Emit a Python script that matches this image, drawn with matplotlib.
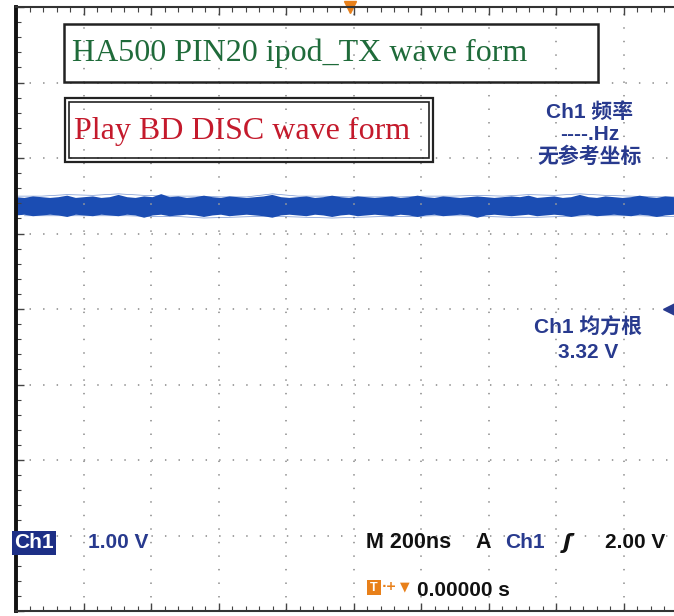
import numpy as np
import matplotlib.pyplot as plt
from matplotlib.patches import Rectangle

# screen size in pixels
W, H = 674, 616

# Ch1 trace envelope, in divisions above the screen centre
trace_top = [1.47, 1.46, 1.48, 1.47, 1.46, 1.47, 1.49, 1.46, 1.47, 1.48,
             1.46, 1.47, 1.50, 1.47, 1.46, 1.48, 1.47, 1.51, 1.47, 1.48,
             1.46, 1.47, 1.49, 1.47, 1.46, 1.48, 1.47, 1.46, 1.47, 1.48,
             1.50, 1.47, 1.46, 1.47, 1.48, 1.46, 1.47, 1.49, 1.47, 1.46,
             1.48, 1.47, 1.46, 1.47, 1.48, 1.46, 1.47, 1.49, 1.47, 1.46,
             1.48, 1.47, 1.46, 1.47, 1.48, 1.47, 1.46, 1.47, 1.48, 1.47,
             1.49, 1.46, 1.47, 1.48, 1.46, 1.47, 1.50, 1.47, 1.46, 1.48,
             1.47, 1.46, 1.47, 1.49, 1.47, 1.46, 1.48, 1.47, 1.46, 1.47]
trace_bottom = [1.25, 1.26, 1.24, 1.25, 1.26, 1.25, 1.23, 1.26, 1.25, 1.24,
                1.26, 1.25, 1.24, 1.26, 1.25, 1.22, 1.25, 1.26, 1.24, 1.25,
                1.26, 1.25, 1.23, 1.25, 1.26, 1.24, 1.25, 1.26, 1.25, 1.24,
                1.22, 1.25, 1.26, 1.25, 1.24, 1.26, 1.25, 1.23, 1.25, 1.26,
                1.24, 1.25, 1.26, 1.25, 1.24, 1.26, 1.25, 1.23, 1.25, 1.26,
                1.24, 1.25, 1.26, 1.25, 1.22, 1.25, 1.26, 1.25, 1.24, 1.25,
                1.26, 1.24, 1.25, 1.26, 1.25, 1.23, 1.25, 1.26, 1.24, 1.25,
                1.26, 1.25, 1.24, 1.26, 1.25, 1.23, 1.25, 1.26, 1.24, 1.25]

title_text = 'HA500 PIN20 ipod_TX wave form'
sub_text = 'Play BD DISC wave form'
freq_lines = ['Ch1 频率', '----.Hz', '无参考坐标']
rms_lines = ['Ch1 均方根', '3.32 V']
ch_scale = '1.00 V'
timebase = 'M 200ns'
trig_mode = 'A'
trig_src = 'Ch1'
trig_level = '2.00 V'
trig_time = '0.00000 s'

n_xdiv, n_ydiv = 10, 8
trig_pos = 4.95   # trigger position marker (div)
ref_pos = 9.67    # reference level marker (div)

navy = '#283a8e'
trace_blue = '#1b4db3'
orange = '#e8801a'
sans = ['Liberation Sans', 'Noto Sans CJK SC', 'DejaVu Sans']


def fx(px):
    return px / W


def fy(py):
    return 1 - py / H


fig = plt.figure(figsize=(W / 100, H / 100), dpi=100)
ax = fig.add_axes([fx(16), 5 / H, 675 / W, 604 / H])
ax.set_xlim(0, n_xdiv)
ax.set_ylim(-n_ydiv / 2, n_ydiv / 2)

# graticule
ax.set_xticks(np.arange(0, n_xdiv + 1))
ax.set_yticks(np.arange(-n_ydiv / 2, n_ydiv / 2 + 1))
ax.set_xticks(np.arange(0, n_xdiv + 0.01, 0.2), minor=True)
ax.set_yticks(np.arange(-n_ydiv / 2, n_ydiv / 2 + 0.01, 0.2), minor=True)
ax.grid(True, which='major', color='#9a9a9a', lw=1.3, ls=(0, (0.8, 6.7)))
ax.tick_params(which='both', direction='in', top=True, bottom=True,
               left=True, right=False, labelbottom=False, labelleft=False,
               color='#444444')
ax.tick_params(which='major', length=6, width=1)
ax.tick_params(which='minor', length=3.5, width=0.8)
ax.spines['left'].set_linewidth(2.8)
ax.spines['left'].set_color('#111111')
for s in ['top', 'bottom']:
    ax.spines[s].set_linewidth(1.5)
    ax.spines[s].set_color('#333333')
ax.spines['right'].set_visible(False)

# trace: solid core plus a thin noisy fringe
t = np.linspace(0, n_xdiv, len(trace_top))
ax.fill_between(t, trace_bottom, trace_top, color=trace_blue, lw=0)
ax.plot(t, trace_top, color=trace_blue, lw=1.2)
ax.plot(t, trace_bottom, color=trace_blue, lw=1.2)
ax.plot(t[::3], np.array(trace_top[::3]) + 0.025, color=trace_blue,
        lw=0.5, alpha=0.6)
ax.plot(t[1::3], np.array(trace_bottom[1::3]) - 0.025, color=trace_blue,
        lw=0.5, alpha=0.6)

# markers
ax.plot(trig_pos, n_ydiv / 2, marker='v', color=orange, ms=9, clip_on=False)
ax.plot(ref_pos, 0, marker='<', color=navy, ms=8, clip_on=False)

# annotation boxes
fig.add_artist(Rectangle((fx(64), fy(82)), (598 - 64) / W, (82 - 24) / H,
                         fill=False, ec='#222222', lw=1.8,
                         transform=fig.transFigure))
fig.add_artist(Rectangle((fx(65), fy(162)), (433 - 65) / W, (162 - 98) / H,
                         fill=False, ec='#222222', lw=1.6,
                         transform=fig.transFigure))
fig.add_artist(Rectangle((fx(69), fy(158)), (429 - 69) / W, (158 - 102) / H,
                         fill=False, ec='#222222', lw=1.2,
                         transform=fig.transFigure))
fig.text(fx(72), fy(53), title_text, color='#1f6b3a',
         family='Liberation Serif', size=23, va='center', ha='left')
fig.text(fx(74), fy(131), sub_text, color='#c41a2c',
         family='Liberation Serif', size=23, va='center', ha='left')

# measurement readouts
for line, py in zip(freq_lines, [112, 135, 157]):
    fig.text(fx(590), fy(py), line, color=navy, family=sans,
             weight='bold', size=15, ha='center', va='center')
for line, py in zip(rms_lines, [328, 352]):
    fig.text(fx(588), fy(py), line, color=navy, family=sans,
             weight='bold', size=15, ha='center', va='center')

# status line
fig.text(fx(34), fy(543), 'Ch1', color='white', family=sans, weight='bold',
         size=15, ha='center', va='center',
         bbox=dict(fc='#1d2f86', ec='none', pad=1.5))
fig.text(fx(88), fy(543), ch_scale, color=navy, family=sans,
         weight='bold', size=15, va='center')
fig.text(fx(366), fy(543), timebase, color='#111111', family=sans,
         weight='bold', size=15.5, va='center')
fig.text(fx(475), fy(543), trig_mode, color='#111111', family=sans,
         weight='bold', size=15.5, va='center')
fig.text(fx(505), fy(543), trig_src, color=navy, family=sans,
         weight='bold', size=15, va='center')
fig.text(fx(567), fy(543), 'ʃ', color='#111111', family='DejaVu Sans',
         weight='bold', style='italic', size=16, ha='center', va='center')
fig.text(fx(605), fy(543), trig_level, color='#111111', family=sans,
         weight='bold', size=15, va='center')

# trigger time readout
fig.add_artist(Rectangle((fx(367), fy(595)), 14 / W, 15 / H, fc=orange,
                         ec='none', transform=fig.transFigure))
fig.text(fx(374), fy(588), 'T', color='white', family=sans, weight='bold',
         size=9, ha='center', va='center')
fig.text(fx(389), fy(587), '·+', color=orange, family='DejaVu Sans',
         weight='bold', size=9, ha='center', va='center')
fig.text(fx(405), fy(587), '▼', color=orange, family='DejaVu Sans',
         size=9, ha='center', va='center')
fig.text(fx(417), fy(590), trig_time, color='#111111', family=sans,
         weight='bold', size=15, va='center')

fig.savefig('out.png', dpi=100)
